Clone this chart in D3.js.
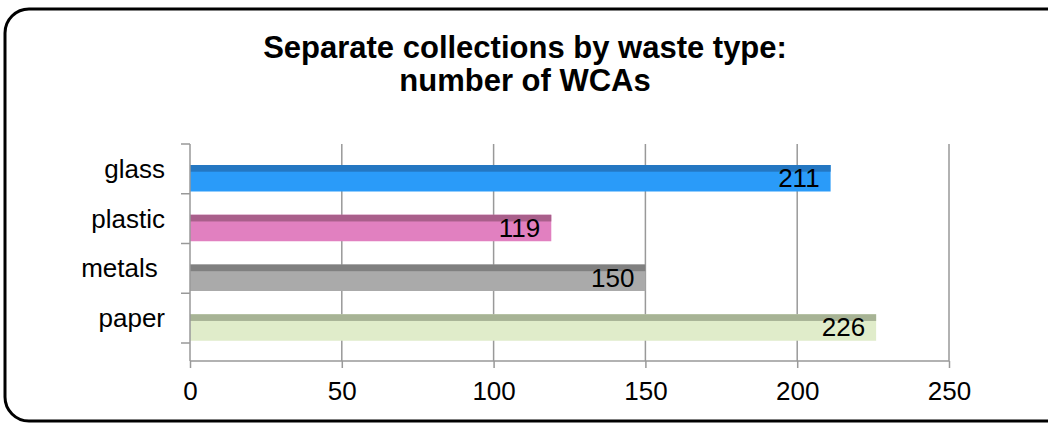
<!doctype html>
<html>
<head>
<meta charset="utf-8">
<style>
    body { margin: 0; background: #fff; }
    svg { display: block; font-family: "Liberation Sans", Arial, sans-serif; }
    .grid line { stroke: #999; stroke-width: 1.5; }
    .axis line, .axis path { stroke: #999; stroke-width: 1.5; }
    .axis text { font-size: 26px; fill: #000; }
</style>
<script src="https://d3js.org/d3.v7.min.js"></script>
</head>
<body>
<svg width="1048" height="423"></svg>
<script>
var categories = ["glass", "plastic", "metals", "paper"];
var labels = ["glass", "plastic", "metals\u00a0", "paper"];
var values = [211, 119, 150, 226];
var xTicks = [0, 50, 100, 150, 200, 250];
var lightColors = ["#2a9bf9", "#e180c0", "#aaaaaa", "#e0ecca"];
var darkColors = ["#2477c2", "#a95f8b", "#808080", "#a7b395"];

var svg = d3.select("svg");

// rounded frame, partly cut off at right/bottom like the source
svg.append("rect")
    .attr("x", 5).attr("y", 9)
    .attr("width", 1070).attr("height", 412)
    .attr("rx", 24)
    .attr("fill", "none")
    .attr("stroke", "#000")
    .attr("stroke-width", 3);

var title = svg.append("text")
    .attr("text-anchor", "middle")
    .attr("font-size", "31px")
    .attr("font-weight", "bold");
title.append("tspan").attr("x", 525).attr("y", 58).text("Separate collections by waste type:");
title.append("tspan").attr("x", 525).attr("y", 91).text("number of WCAs");

var plotLeft = 190, plotRight = 949, plotTop = 144, plotBottom = 361;

var x = d3.scaleLinear().domain([0, 250]).range([plotLeft, plotRight]);
var y = d3.scaleBand().domain(categories).range([plotTop, 343]);

// vertical gridlines
svg.append("g").attr("class", "grid")
    .selectAll("line").data(xTicks.slice(1)).enter().append("line")
    .attr("x1", function(d) { return x(d); })
    .attr("x2", function(d) { return x(d); })
    .attr("y1", plotTop).attr("y2", plotBottom);

// bars
var bars = svg.append("g").selectAll("g").data(values).enter().append("g");
bars.append("rect")
    .attr("x", plotLeft)
    .attr("y", function(d, i) { return y(categories[i]) + 21; })
    .attr("width", function(d) { return x(d) - plotLeft; })
    .attr("height", 26.5)
    .attr("fill", function(d, i) { return lightColors[i]; });
bars.append("rect")
    .attr("x", plotLeft)
    .attr("y", function(d, i) { return y(categories[i]) + 21; })
    .attr("width", function(d) { return x(d) - plotLeft; })
    .attr("height", 6.7)
    .attr("fill", function(d, i) { return darkColors[i]; });
bars.append("text")
    .attr("x", function(d) { return x(d) - 11; })
    .attr("y", function(d, i) { return y(categories[i]) + 43; })
    .attr("text-anchor", "end")
    .attr("font-size", "26px")
    .text(function(d) { return d; });

// bottom axis
var xAxis = svg.append("g").attr("class", "axis")
    .attr("transform", "translate(0," + plotBottom + ")")
    .call(d3.axisBottom(x).tickValues(xTicks).tickSizeInner(7).tickSizeOuter(0).tickPadding(14));
xAxis.select(".domain").remove();
xAxis.append("line").attr("x1", plotLeft).attr("x2", plotRight).attr("y1", 0).attr("y2", 0);

// left axis: ticks at band boundaries, labels at band centres
var yAxis = svg.append("g").attr("class", "axis");
yAxis.append("line").attr("x1", plotLeft).attr("x2", plotLeft).attr("y1", plotTop).attr("y2", plotBottom);
var bounds = categories.map(function(c) { return y(c); }).concat([y.range()[1]]);
yAxis.selectAll(".tk").data(bounds).enter().append("line")
    .attr("class", "tk")
    .attr("x1", plotLeft - 9).attr("x2", plotLeft)
    .attr("y1", function(d) { return d; })
    .attr("y2", function(d) { return d; });
yAxis.selectAll("text").data(categories).enter().append("text")
    .attr("x", 165)
    .attr("y", function(d) { return y(d) + y.bandwidth() / 2 + 9; })
    .attr("text-anchor", "end")
    .style("white-space", "pre")
    .text(function(d, i) { return labels[i]; });
</script>
</body>
</html>
